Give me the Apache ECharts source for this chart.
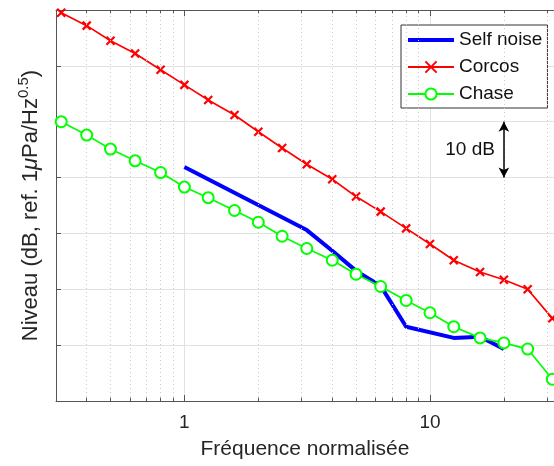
<!DOCTYPE html>
<html>
<head>
<meta charset="utf-8">
<script src="https://cdn.jsdelivr.net/npm/echarts@6/dist/echarts.min.js"></script>
<style>html,body{margin:0;padding:0;background:#fff}#c{width:554px;height:466px}</style>
</head>
<body>
<div id="c"></div>
<script>
const freqs = [0.315, 0.4, 0.5, 0.63, 0.8, 1, 1.25, 1.6, 2, 2.5, 3.15, 4, 5, 6.3, 8, 10, 12.5, 16, 20, 25, 31.5];
const corcos = [69.5, 67.2, 64.5, 62.2, 59.3, 56.6, 53.9, 51.2, 48.2, 45.3, 42.4, 39.7, 36.6, 33.9, 30.9, 28.1, 25.2, 23.1, 21.7, 20.0, 14.8];
const chase = [50.0, 47.6, 45.1, 43.0, 40.9, 38.3, 36.4, 34.1, 32.0, 29.5, 27.3, 25.2, 22.7, 20.5, 18.0, 15.8, 13.3, 11.3, 10.4, 9.3, 3.9];
const selfFreqs = [1, 3.15, 4, 5, 6.3, 8, 12.5, 16, 20];
const selfNoise = [41.9, 30.6, 26.9, 23.3, 20.6, 13.3, 11.3, 11.5, 9.3];
const minorTicks = [0.4, 0.5, 0.6, 0.7, 0.8, 0.9, 2, 3, 4, 5, 6, 7, 8, 9, 20, 30];
const seriesNames = ['Self noise', 'Corcos', 'Chase'];
const scaleBar = {x: 20, y0: 40, y1: 50, text: '10 dB'};

const FONT = 'Liberation Sans';
const TXT = '#262626';
const AX = '#555555';
const zip = (xs, ys) => xs.map((x, i) => [x, ys[i]]);

const chart = echarts.init(document.getElementById('c'), null, {renderer: 'canvas'});
chart.setOption({
  animation: false,
  grid: {left: 56, top: 10, right: 0, bottom: 65, containLabel: false},
  legend: {
    data: [
      {name: seriesNames[0], itemStyle: {opacity: 0}, lineStyle: {width: 4, color: '#0000ff'}},
      {name: seriesNames[1]},
      {name: seriesNames[2]}
    ],
    left: 401, top: 25, orient: 'vertical',
    backgroundColor: '#fff', borderColor: '#333', borderWidth: 1,
    padding: [5, 5, 4, 5], itemGap: 7, itemWidth: 46, itemHeight: 14, itemTextGap: 5,
    textStyle: {fontSize: 19, lineHeight: 20, color: '#111', fontFamily: FONT}
  },
  xAxis: [{
    type: 'log', logBase: 10, min: 0.3, max: 32, position: 'bottom',
    axisLine: {show: true, lineStyle: {color: AX}},
    axisTick: {show: true, inside: true, length: 6, lineStyle: {color: AX}},
    axisLabel: {showMinLabel: false, showMaxLabel: false, margin: 12, fontSize: 19, color: TXT, fontFamily: FONT},
    splitLine: {show: true, lineStyle: {color: '#e2e2e2'}},
    name: 'Fréquence normalisée', nameLocation: 'middle', nameGap: 38,
    nameTextStyle: {fontSize: 21, color: TXT, fontFamily: FONT}
  }, {
    type: 'log', logBase: 10, min: 0.3, max: 32, position: 'top',
    axisLine: {show: true, lineStyle: {color: AX}},
    axisTick: {show: true, inside: true, length: 6, lineStyle: {color: AX}},
    axisLabel: {show: false}, splitLine: {show: false}
  }],
  yAxis: {
    type: 'value', min: 0, max: 70, interval: 10,
    axisLine: {show: true, lineStyle: {color: AX}},
    axisTick: {show: true, inside: true, length: 5, lineStyle: {color: AX}},
    axisLabel: {show: false},
    splitLine: {show: true, lineStyle: {color: '#e2e2e2'}},
    name: '{a|Niveau (dB, ref. 1}{mu|μ}{a|Pa/Hz}{sup|0.5}{a|)}',
    nameLocation: 'middle', nameGap: 11,
    nameTextStyle: {
      color: TXT, fontFamily: FONT, fontSize: 22,
      rich: {
        a: {fontSize: 22, color: TXT, fontFamily: FONT},
        mu: {fontSize: 22, color: TXT, fontFamily: FONT, fontStyle: 'italic'},
        sup: {fontSize: 15, color: TXT, fontFamily: FONT, padding: [0, 0, 14, 0]}
      }
    }
  },
  series: [
    {
      name: seriesNames[0], type: 'line', data: zip(selfFreqs, selfNoise), z: 3,
      symbol: 'none', lineStyle: {color: '#0000ff', width: 4}, itemStyle: {color: '#0000ff'},
      markLine: {
        silent: true, symbol: ['arrow', 'arrow'], symbolSize: [8, 10], z: 6,
        lineStyle: {color: '#000', width: 1.5, type: 'solid'}, label: {show: false},
        emphasis: {disabled: true},
        data: [[
          {coord: [scaleBar.x, scaleBar.y0], lineStyle: {type: 'solid', color: '#000', width: 1.5}},
          {coord: [scaleBar.x, scaleBar.y1]}
        ]]
      },
      markPoint: {
        silent: true, symbol: 'circle', symbolSize: 0,
        label: {show: true, position: 'left', distance: 9, formatter: scaleBar.text, fontSize: 19, color: '#111', fontFamily: FONT},
        data: [{coord: [scaleBar.x, (scaleBar.y0 + scaleBar.y1) / 2]}]
      }
    },
    {
      name: seriesNames[1], type: 'line', data: zip(freqs, corcos), z: 4,
      symbol: 'path://M0,0L10,10M10,0L0,10', symbolSize: 8,
      lineStyle: {color: '#ff0000', width: 1.7},
      itemStyle: {color: '#ff0000', borderColor: '#ff0000', borderWidth: 2.2}
    },
    {
      name: seriesNames[2], type: 'line', data: zip(freqs, chase), z: 5,
      symbol: 'emptyCircle', symbolSize: 11,
      lineStyle: {color: '#00ff00', width: 1.7},
      itemStyle: {color: '#00ff00', borderColor: '#00ff00', borderWidth: 2}
    },
    {
      name: 'minorGrid', type: 'line', data: [], z: 1, silent: true,
      markLine: {
        silent: true, symbol: 'none', label: {show: false},
        lineStyle: {color: '#cccccc', width: 1, type: [1, 3]},
        data: minorTicks.map(v => ({xAxis: v}))
      }
    },
    {
      name: 'minorTicks', type: 'line', data: [], z: 2, silent: true,
      markLine: {
        silent: true, symbol: 'none', label: {show: false},
        lineStyle: {color: AX, width: 1, type: 'solid'},
        data: minorTicks.map(v => [{coord: [v, 0]}, {coord: [v, 0.6]}])
          .concat(minorTicks.map(v => [{coord: [v, 70]}, {coord: [v, 69.4]}]))
      }
    }
  ]
});
</script>
</body>
</html>
